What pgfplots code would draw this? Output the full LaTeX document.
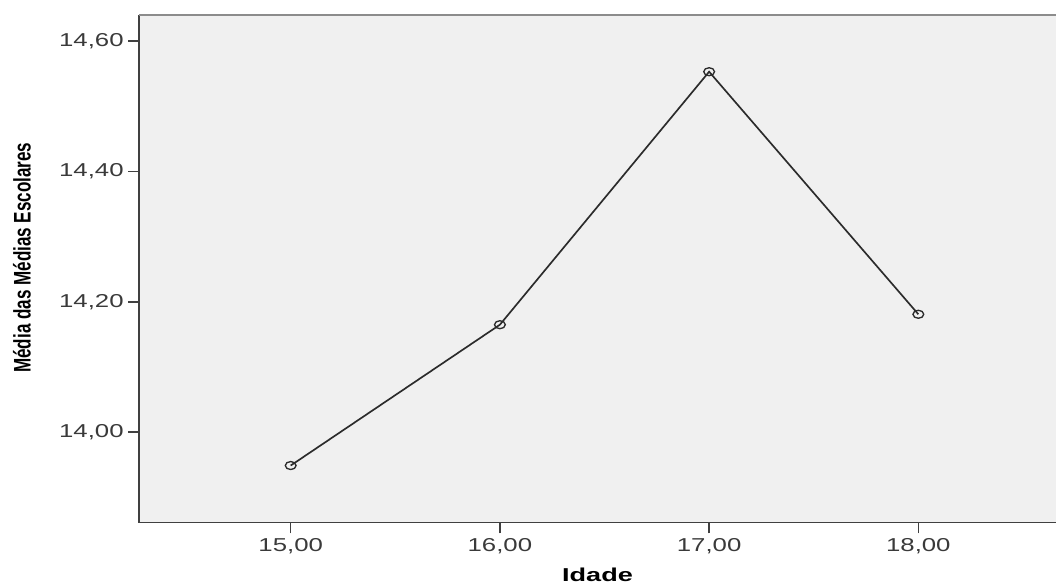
\documentclass[border=0pt]{standalone}
\usepackage{fontspec}
\setmainfont{Liberation Sans}
\newfontfamily\tickfont[FakeStretch=1.38]{Liberation Sans}
\newfontfamily\xlabfont[FakeStretch=1.45]{Liberation Sans}
\newfontfamily\ylabfont[FakeStretch=0.71]{Liberation Sans}
\usepackage{pgfplots}
\pgfplotsset{compat=1.18}
\definecolor{bgcol}{HTML}{F0F0F0}
\definecolor{axcol}{HTML}{404040}
\definecolor{topcol}{HTML}{8C8C8C}
\definecolor{linecol}{HTML}{2B2B2B}
\definecolor{tickcol}{HTML}{3A3A3A}
\begin{document}
\begin{tikzpicture}
\begin{axis}[
  name=ax,
  scale only axis,
  width=687.75pt, height=380.7pt,
  xmin=14.275, xmax=18.658,
  ymin=13.8615, ymax=14.640,
  xtick={15,16,17,18},
  ytick={14.0,14.2,14.4,14.6},
  minor tick num=0,
  axis x line*=bottom,
  axis y line*=left,
  axis line style={axcol, line width=1.3pt},
  axis background/.style={fill=bgcol},
  tick align=outside,
  major tick length=8pt,
  tick style={axcol, line width=1.2pt},
  /pgf/number format/assume math mode=true,
  /pgf/number format/.cd, fixed, fixed zerofill, precision=2, use comma, 1000 sep={},
  /pgfplots/.cd,
  ticklabel style={font=\tickfont\fontsize{14}{16}\selectfont, text=tickcol},
  xlabel={Idade},
  ylabel={Média das Médias Escolares},
  every axis x label/.style={at={(axis description cs:0.5,-0.1025)}, anchor=center, inner sep=1pt, font=\xlabfont\bfseries\fontsize{14}{15}\selectfont},
  every axis y label/.style={at={(axis description cs:-0.1276,0.522)}, anchor=center, rotate=90, font=\ylabfont\bfseries\fontsize{18}{20}\selectfont},
  clip=false,
]
\addplot[linecol, line width=1.25pt, mark=o, mark size=3pt, mark options={xscale=1.35, line width=1pt, solid}]
  coordinates {(15,13.949) (16,14.165) (17,14.553) (18,14.181)};
\draw[topcol, line width=1.5pt] (rel axis cs:0,1) -- (rel axis cs:1,1);
\end{axis}
\pgfresetboundingbox
\path (-104.25pt,-46.05pt) rectangle (687.75pt,391.95pt);
\end{tikzpicture}
\end{document}
